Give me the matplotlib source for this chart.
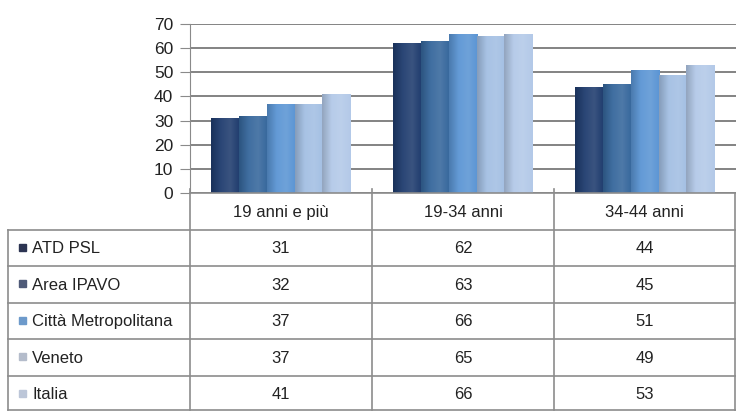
import matplotlib.pyplot as plt
import numpy as np
from matplotlib.colors import LinearSegmentedColormap, to_rgb

# Data
categories = ['19 anni e più', '19-34 anni', '34-44 anni']
series = ['ATD PSL', 'Area IPAVO', 'Città Metropolitana', 'Veneto', 'Italia']
atd_psl = [31, 62, 44]
area_ipavo = [32, 63, 45]
citta_metro = [37, 66, 51]
veneto = [37, 65, 49]
italia = [41, 66, 53]
values = [atd_psl, area_ipavo, citta_metro, veneto, italia]
colors = ['#1f3c6e', '#36679c', '#5b95d4', '#a3bfe3', '#b3c9e8']
legend_colors = ['#2c3452', '#4f5a78', '#6d9acb', '#b4bccb', '#bcc6d8']
yticks = [0, 10, 20, 30, 40, 50, 60, 70]

plt.rcParams['font.family'] = ['Liberation Sans', 'DejaVu Sans']


def shade(c, f):
    r = np.array(to_rgb(c))
    if f < 0:
        return tuple(r * (1 + f))
    return tuple(r + (1 - r) * f)


W, H = 736, 412
fig = plt.figure(figsize=(W / 100, H / 100), dpi=100)
fig.patch.set_facecolor('white')

# pixel layout
x_plot0, x_plot1 = 190, 736
y_top, y_zero = 24, 193
row_h = 36.5
x_left = 8

ax = fig.add_axes([x_plot0 / W, (H - y_zero) / H, (x_plot1 - x_plot0) / W, (y_zero - y_top) / H])
ncat = len(categories)
x = np.arange(ncat)
bw = 0.153
grad = np.linspace(0, 1, 64).reshape(1, -1)
for i, (vals, c) in enumerate(zip(values, colors)):
    bars = ax.bar(x + (i - 2) * bw, vals, width=bw * 1.02, color=c, zorder=3, linewidth=0)
    cmap = LinearSegmentedColormap.from_list('g%d' % i, [shade(c, -0.18), shade(c, 0.05), shade(c, 0.12), c])
    for b in bars:
        im = ax.imshow(grad, extent=[b.get_x(), b.get_x() + b.get_width(), 0, b.get_height()],
                       aspect='auto', cmap=cmap, zorder=3 + i * 0.1, interpolation='bicubic')
        im.set_clip_path(b)

ax.set_xlim(-0.5, ncat - 0.5)
ax.set_ylim(0, 70)
ax.set_yticks(yticks)
ax.set_yticklabels([str(v) for v in yticks], fontsize=12.5, color='#222222')
ax.set_xticks([])
ax.grid(axis='y', color='#7a7a7a', linewidth=1.3, zorder=0)
for s in ['top', 'right', 'bottom']:
    ax.spines[s].set_visible(False)
ax.spines['left'].set_color('#8a8a8a')
ax.tick_params(axis='y', length=7, color='#8a8a8a', pad=5)

# data table
tax = fig.add_axes([0, 0, 1, 1])
tax.set_xlim(0, W)
tax.set_ylim(H, 0)
tax.axis('off')
line_kw = dict(color='#8c8c8c', linewidth=1.2)
col_edges = [x_plot0 + k * (x_plot1 - x_plot0) / ncat for k in range(ncat + 1)]
col_edges[-1] = W - 1
# horizontal lines
tax.plot([x_plot0, W], [y_zero, y_zero], **line_kw)
for r in range(1, len(series) + 2):
    yy = min(y_zero + r * row_h, H - 2)
    tax.plot([x_left, W], [yy, yy], **line_kw)
# vertical lines
tax.plot([x_left, x_left], [y_zero + row_h, H - 2], **line_kw)
for ce in col_edges:
    tax.plot([ce, ce], [y_zero - 4 if ce != col_edges[-1] else y_zero, H - 2], **line_kw)

# header
for k, cat in enumerate(categories):
    cx = (col_edges[k] + col_edges[k + 1]) / 2
    tax.text(cx, y_zero + row_h / 2 + 1, cat, ha='center', va='center', fontsize=12, color='#222222')

# rows
for r, (name, vals, c) in enumerate(zip(series, values, legend_colors)):
    cy = y_zero + row_h * (r + 1) + row_h / 2 + 1
    tax.add_patch(plt.Rectangle((19, cy - 5), 7, 7, color=c))
    tax.text(32, cy, name, ha='left', va='center', fontsize=12, color='#222222')
    for k, v in enumerate(vals):
        cx = (col_edges[k] + col_edges[k + 1]) / 2
        tax.text(cx, cy, str(v), ha='center', va='center', fontsize=12, color='#222222')

fig.savefig('out.png', dpi=100)
